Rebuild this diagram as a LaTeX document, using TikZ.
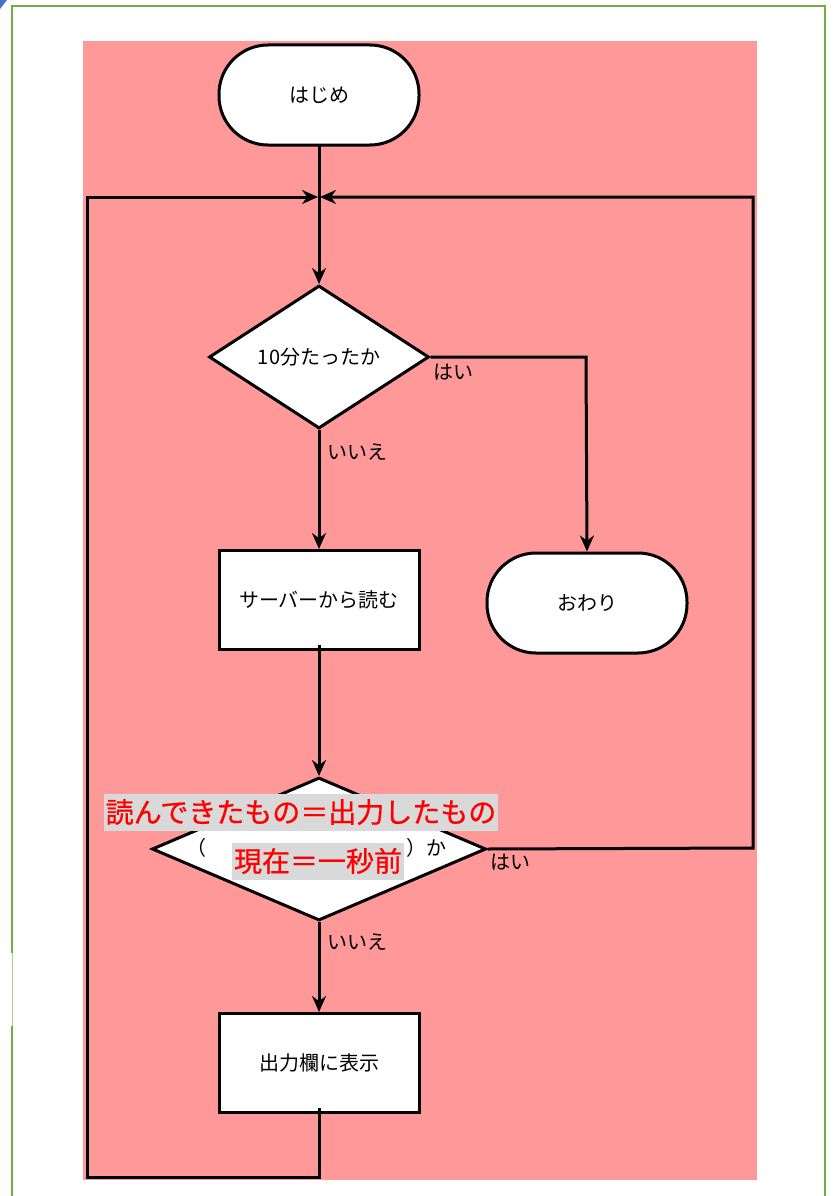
\documentclass[tikz,border=0pt]{standalone}
\usepackage{fontspec}
\setmainfont{Noto Sans CJK JP}
\newfontfamily\redfont[FakeBold=0.8]{Noto Sans CJK JP}
\usetikzlibrary{shapes.geometric,arrows.meta}
\definecolor{pinkbg}{HTML}{FF9999}
\definecolor{frameg}{HTML}{70AD47}
\definecolor{cornerblue}{HTML}{4472C4}
\definecolor{labelgray}{HTML}{D9D9D9}
\tikzset{
  flow/.style={line width=3pt, draw=black},
  arr/.style={flow, -{Stealth[length=16pt,width=14pt]}},
  term/.style={draw=black, line width=3pt, fill=white, rounded corners=49pt, minimum width=200pt, minimum height=100pt, font=\fontsize{20pt}{24pt}\selectfont},
  proc/.style={draw=black, line width=3pt, fill=white, minimum width=200pt, minimum height=99pt, font=\fontsize{20pt}{24pt}\selectfont},
  dec/.style={draw=black, line width=3pt, fill=white, diamond, inner sep=0pt, font=\fontsize{20pt}{24pt}\selectfont},
  lbl/.style={font=\fontsize{20pt}{24pt}\selectfont, inner sep=0pt},
  redlbl/.style={fill=labelgray, text=red, font=\redfont\fontsize{28pt}{32pt}\selectfont, inner sep=2pt, minimum height=37pt}
}
\begin{document}
\begin{tikzpicture}[x=1pt,y=-1pt]
\useasboundingbox (0,0) rectangle (836,1196);
% frame
\draw[frameg!60, line width=1pt] (12,953) -- (12,1026);
\draw[frameg, line width=2.6pt] (12,1026) -- (12,1196);
\draw[frameg, line width=2.6pt] (12,953) -- (12,6) -- (825,6) -- (825,1196);
\fill[cornerblue] (0,0) -- (7,0) -- (0,9) -- cycle;
% background
\fill[pinkbg] (83,41) rectangle (757,1180);
% nodes
\node[term] (start) at (319,95) {はじめ};
\node[dec, minimum width=220pt, minimum height=143pt, aspect=1.54] (d1) at (319,357) {10分たったか};
\node[term] (end) at (587,603) {おわり};
\node[proc] (read) at (319,600) {サーバーから読む};
\node[dec, minimum width=334pt, minimum height=143pt, aspect=2.33] (d2) at (319,849) {};
\node[proc] (out) at (319,1063) {出力欄に表示};
\coordinate (m) at (319,197);
\coordinate (rt) at (753,197);
\coordinate (rb) at (753,848);
\coordinate (lt) at (87,197);
\coordinate (lb) at (87,1177);
\coordinate (ob) at (319,1177);
\coordinate (dr) at (586,357);
% labels
\node[lbl] (yes1) at (453,372) {はい};
\node[lbl] (no1) at (357,452) {いいえ};
\node[lbl] (yes2) at (510,862) {はい};
\node[lbl] (no2) at (357,942) {いいえ};
\node[lbl] (lp) at (196,848) {（};
\node[lbl] (rp) at (426,848) {）か};
\node[redlbl] (r1) at (301,812) {読んできたもの＝出力したもの};
\node[redlbl] (r2) at (318,861) {現在＝一秒前};
% connectors
\draw[flow] ([yshift=3pt]start.south) -- (m);
\draw[arr] (m) -- (d1.north);
\draw[arr] (d1.east) -- (dr) -- (end.north);
\draw[arr] (d1.south) -- (read.north);
\draw[arr] ([yshift=6pt]read.south) -- (d2.north);
\draw[arr] (d2.south) -- (out.north);
\draw[arr] (d2.east) -- (rb) -- (rt) -- ([xshift=1pt]m);
\draw[arr] ([yshift=6pt]out.south) -- (ob) -- (lb) -- (lt) -- ([xshift=-1pt]m);
\end{tikzpicture}
\end{document}
